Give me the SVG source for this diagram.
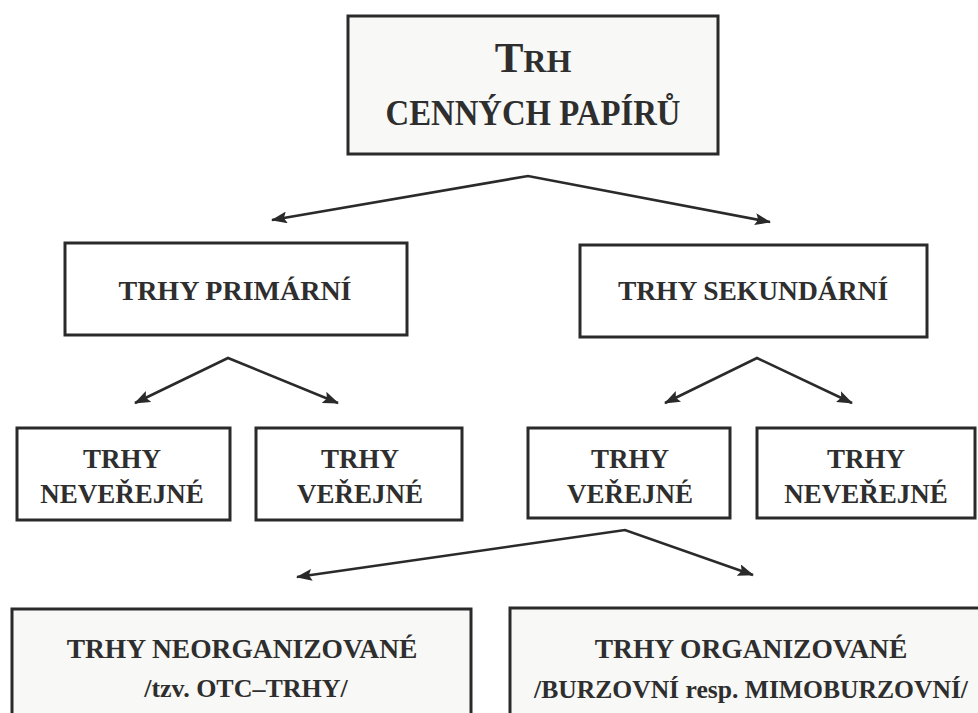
<svg xmlns="http://www.w3.org/2000/svg" width="978" height="713" viewBox="0 0 978 713">
<style>
.box{fill:#ffffff;stroke:#2a2a2a;stroke-width:3}
.boxg{fill:#f8f8f6;stroke:#2a2a2a;stroke-width:3}
.t{font-family:'Liberation Serif','Times New Roman',serif;font-weight:bold;fill:#2e2e2e;text-anchor:middle}
.c{fill:none;stroke:#2a2a2a;stroke-width:2.6;stroke-linejoin:miter}
</style>
<defs>
<marker id="ah" viewBox="0 0 16 12" refX="15" refY="6" markerWidth="16" markerHeight="12" markerUnits="userSpaceOnUse" orient="auto-start-reverse">
<path d="M0,0 L16,6 L0,12 L3,6 Z" fill="#2a2a2a"/>
</marker>
</defs>
<rect width="978" height="713" fill="#ffffff"/>
<g id="root">
<rect class="boxg" x="348" y="16" width="370" height="138"/>
<text class="t" x="533" y="72"><tspan font-size="43">T</tspan><tspan font-size="32">RH</tspan></text>
<text class="t" x="533" y="125" font-size="35" textLength="295" lengthAdjust="spacingAndGlyphs">CENNÝCH PAPÍRŮ</text>
</g>
<g id="primarni">
<rect class="box" x="65" y="243" width="342" height="92"/>
<text class="t" x="235" y="300" font-size="28">TRHY PRIMÁRNÍ</text>
</g>
<g id="sekundarni">
<rect class="box" x="580" y="245" width="347" height="92"/>
<text class="t" x="753" y="300" font-size="27.5">TRHY SEKUNDÁRNÍ</text>
</g>
<g id="prim-neverejne">
<rect class="box" x="17" y="428" width="213" height="92"/>
<text class="t" x="122" y="468" font-size="27">TRHY</text>
<text class="t" x="122" y="503" font-size="27">NEVEŘEJNÉ</text>
</g>
<g id="prim-verejne">
<rect class="box" x="256" y="428" width="206" height="92"/>
<text class="t" x="360" y="468" font-size="27">TRHY</text>
<text class="t" x="360" y="503" font-size="27">VEŘEJNÉ</text>
</g>
<g id="sek-verejne">
<rect class="box" x="528" y="428" width="202" height="90"/>
<text class="t" x="630" y="468" font-size="27">TRHY</text>
<text class="t" x="630" y="503" font-size="27">VEŘEJNÉ</text>
</g>
<g id="sek-neverejne">
<rect class="box" x="757" y="428" width="218" height="90"/>
<text class="t" x="866" y="468" font-size="27">TRHY</text>
<text class="t" x="866" y="503" font-size="27">NEVEŘEJNÉ</text>
</g>
<g id="neorganizovane">
<rect class="boxg" x="12" y="609" width="459" height="120"/>
<text class="t" x="242" y="658" font-size="27.5">TRHY NEORGANIZOVANÉ</text>
<text class="t" x="246" y="697" font-size="26">/tzv. OTC–TRHY/</text>
</g>
<g id="organizovane">
<rect class="boxg" x="510" y="608" width="480" height="120"/>
<text class="t" x="751" y="658" font-size="27.5">TRHY ORGANIZOVANÉ</text>
<text class="t" x="751" y="698" font-size="25.6">/BURZOVNÍ resp. MIMOBURZOVNÍ/</text>
</g>
<g id="connectors">
<polyline class="c" points="272,220 528,176 770,222" marker-start="url(#ah)" marker-end="url(#ah)"/>
<polyline class="c" points="135,403 228,358 338,403" marker-start="url(#ah)" marker-end="url(#ah)"/>
<polyline class="c" points="665,403 757,358 852,403" marker-start="url(#ah)" marker-end="url(#ah)"/>
<polyline class="c" points="297,577 625,530 753,575" marker-start="url(#ah)" marker-end="url(#ah)"/>
</g>
</svg>
